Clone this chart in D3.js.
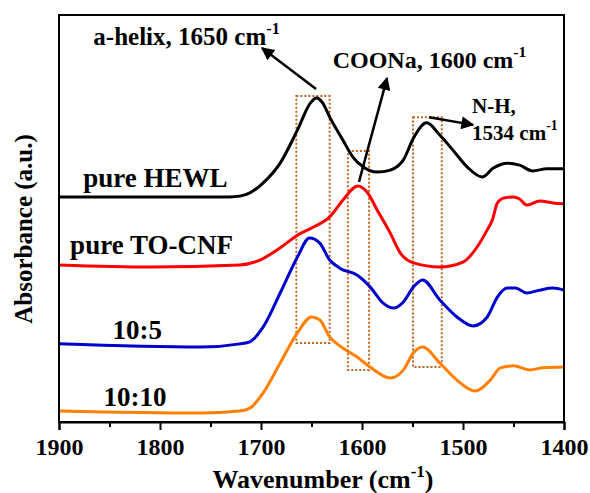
<!DOCTYPE html>
<html>
<head>
<meta charset="utf-8">
<script src="https://cdn.jsdelivr.net/npm/d3@7"></script>
<style>
  body { margin: 0; background: #fff; }
  text { font-family: "Liberation Serif", "Times New Roman", serif; font-weight: bold; }
</style>
</head>
<body>
<svg id="chart"></svg>
<script>
// Chart size
const width = 590;
const height = 493;
const margin = { top: 15, right: 26, bottom: 71, left: 59 };

// Spectra: [wavenumber, absorbance (a.u.)]
const hewl = [
  [1900, 55.3], [1810, 55.3], [1731, 55.3], [1721, 55.5], [1711, 56.3], [1698, 58.7],
  [1681, 63.6], [1664, 71.7], [1651, 78.4], [1645, 79.6], [1639, 78.4], [1632, 74.9],
  [1619, 69.3], [1609, 65.1], [1599, 62.7], [1585, 61.4], [1572, 61.9], [1559, 64.4],
  [1549, 69.8], [1536, 73.5], [1523, 70.5], [1510, 66.8], [1496, 62.7], [1481, 60.2],
  [1470, 62.4], [1456, 63.6], [1444, 63.1], [1431, 61.7], [1417, 62.2], [1400, 62.2]
];
const toCnf = [
  [1900, 38.6], [1810, 38.1], [1721, 38.6], [1701, 39.8], [1681, 42.8], [1664, 45.9],
  [1648, 47.9], [1632, 50.4], [1619, 54.5], [1604, 58.0], [1595, 56.5], [1585, 52.1],
  [1572, 46.4], [1562, 41.5], [1549, 39.1], [1523, 38.1], [1500, 39.3], [1486, 43.0],
  [1476, 47.2], [1471, 49.6], [1466, 53.8], [1460, 55.0], [1450, 55.3], [1444, 54.8],
  [1437, 53.3], [1424, 54.3], [1411, 53.8], [1400, 53.6]
];
const mix10to5 = [
  [1900, 19.2], [1760, 18.4], [1721, 19.2], [1711, 19.7], [1698, 23.3], [1681, 31.7],
  [1664, 40.5], [1652, 45.2], [1642, 44.0], [1632, 39.8], [1622, 37.8], [1605, 36.1],
  [1592, 33.2], [1579, 29.2], [1569, 28.0], [1559, 29.5], [1549, 33.2], [1540, 34.9],
  [1523, 30.0], [1506, 25.8], [1490, 23.6], [1476, 25.8], [1466, 30.7], [1456, 32.9],
  [1448, 32.9], [1437, 31.7], [1424, 32.4], [1411, 32.9], [1400, 32.4]
];
const mix10to10 = [
  [1900, 2.7], [1760, 2.2], [1721, 2.7], [1711, 3.4], [1698, 7.1], [1681, 14.5],
  [1664, 21.9], [1650, 25.8], [1642, 25.1], [1632, 20.9], [1619, 18.2], [1605, 16.0],
  [1592, 13.5], [1572, 10.8], [1559, 12.8], [1549, 17.0], [1540, 18.4], [1523, 14.5],
  [1506, 10.3], [1488, 7.6], [1473, 10.3], [1463, 13.3], [1450, 13.8], [1434, 12.8],
  [1421, 13.3], [1400, 13.5]
];

const seriesNames = ["pure HEWL", "pure TO-CNF", "10:5", "10:10"];
const seriesColors = ["#000000", "#ff0000", "#0000cc", "#ff8000"];
const seriesData = [hewl, toCnf, mix10to5, mix10to10];
// label anchor [wavenumber, absorbance]
const labelPos = [[1876, 57.7], [1889, 41.3], [1847, 20.4], [1856, 3.9]];

const xTicks = [1900, 1800, 1700, 1600, 1500, 1400];
const xMinorTicks = [1850, 1750, 1650, 1550, 1450];

// Highlight boxes: [wn left, wn right, top, bottom]
const boxes = [
  [1665, 1632, 80.1, 19.4],
  [1614, 1593, 66.6, 12.8],
  [1549.5, 1521, 74.9, 13.5]
];

// Annotation arrows: [from wn, from abs, to wn, to abs]
const arrows = [
  [1645.5, 81.8, 1699, 91.9],
  [1603, 59.0, 1575.2, 84.5],
  [1533.7, 74.9, 1490, 73.0]
];
// Annotation texts: [wn, abs, main text, superscript, font size]
const notes = [
  [1866, 92.6, "a-helix, 1650 cm", "-1", 25],
  [1629, 87.0, "COONa, 1600 cm", "-1", 24],
  [1491, 75.9, "N-H,", "", 21],
  [1491, 69.3, "1534 cm", "-1", 21]
];

const svg = d3.select("#chart")
  .attr("width", width)
  .attr("height", height);

const x = d3.scaleLinear()
  .domain([1900, 1400])
  .range([margin.left, width - margin.right]);

const y = d3.scaleLinear()
  .domain([0, 100])
  .range([height - margin.bottom, margin.top]);

const plotW = width - margin.left - margin.right;
const plotH = height - margin.top - margin.bottom;

// arrow head
svg.append("defs").append("marker")
  .attr("id", "head")
  .attr("viewBox", "0 0 10 10")
  .attr("refX", 9)
  .attr("refY", 5)
  .attr("markerUnits", "userSpaceOnUse")
  .attr("markerWidth", 21)
  .attr("markerHeight", 13)
  .attr("orient", "auto")
  .append("path")
  .attr("d", "M0,0 L10,5 L0,10 Z")
  .attr("fill", "#000");

// dotted boxes
svg.append("g").selectAll("rect")
  .data(boxes)
  .enter()
  .append("rect")
  .attr("x", d => x(d[0]))
  .attr("y", d => y(d[2]))
  .attr("width", d => x(d[1]) - x(d[0]))
  .attr("height", d => y(d[3]) - y(d[2]))
  .attr("fill", "none")
  .attr("stroke", "#c0651f")
  .attr("stroke-width", 2)
  .attr("stroke-dasharray", "2,2");

// curves
const line = d3.line()
  .x(d => x(d[0]))
  .y(d => y(d[1]))
  .curve(d3.curveMonotoneX);

svg.append("g").selectAll("path")
  .data(seriesData)
  .enter()
  .append("path")
  .attr("d", line)
  .attr("fill", "none")
  .attr("stroke", (d, i) => seriesColors[i])
  .attr("stroke-width", 3)
  .attr("stroke-linejoin", "round");

// curve labels
svg.append("g").selectAll("text")
  .data(seriesNames)
  .enter()
  .append("text")
  .attr("x", (d, i) => x(labelPos[i][0]))
  .attr("y", (d, i) => y(labelPos[i][1]))
  .attr("font-size", 27)
  .attr("fill", "#000")
  .text(d => d);

// arrows
svg.append("g").selectAll("line")
  .data(arrows)
  .enter()
  .append("line")
  .attr("x1", d => x(d[0]))
  .attr("y1", d => y(d[1]))
  .attr("x2", d => x(d[2]))
  .attr("y2", d => y(d[3]))
  .attr("stroke", "#000")
  .attr("stroke-width", 2.5)
  .attr("marker-end", "url(#head)");

// annotation text
const noteText = svg.append("g").selectAll("text")
  .data(notes)
  .enter()
  .append("text")
  .attr("x", d => x(d[0]))
  .attr("y", d => y(d[1]))
  .attr("font-size", d => d[4])
  .attr("fill", "#000");
noteText.append("tspan").text(d => d[2]);
noteText.append("tspan")
  .attr("font-size", d => d[4] * 0.65)
  .attr("dy", d => -d[4] * 0.45)
  .text(d => d[3]);

// frame
svg.append("rect")
  .attr("x", margin.left)
  .attr("y", margin.top)
  .attr("width", plotW)
  .attr("height", plotH)
  .attr("fill", "none")
  .attr("stroke", "#000")
  .attr("stroke-width", 2);

// x axis
const xAxis = svg.append("g")
  .attr("transform", `translate(0,${height - margin.bottom})`)
  .call(d3.axisBottom(x).tickValues(xTicks).tickSize(8).tickPadding(8).tickFormat(d3.format("d")));
xAxis.select(".domain").attr("stroke-width", 2);
xAxis.selectAll(".tick line").attr("stroke-width", 2);
xAxis.selectAll(".tick text")
  .attr("font-size", 24)
  .attr("fill", "#000");

svg.append("g")
  .attr("transform", `translate(0,${height - margin.bottom})`)
  .call(d3.axisBottom(x).tickValues(xMinorTicks).tickSize(5).tickFormat(""))
  .call(g => g.select(".domain").remove())
  .selectAll(".tick line").attr("stroke-width", 2);

// axis titles
const xTitle = svg.append("text")
  .attr("x", 323)
  .attr("y", 488)
  .attr("text-anchor", "middle")
  .attr("font-size", 26)
  .attr("fill", "#000");
xTitle.append("tspan").text("Wavenumber (cm");
xTitle.append("tspan").attr("font-size", 17).attr("dy", -11).text("-1");
xTitle.append("tspan").attr("dy", 11).text(")");

svg.append("text")
  .attr("transform", "translate(32,229) rotate(-90)")
  .attr("text-anchor", "middle")
  .attr("font-size", 25)
  .attr("fill", "#000")
  .text("Absorbance (a.u.)");
</script>
</body>
</html>
